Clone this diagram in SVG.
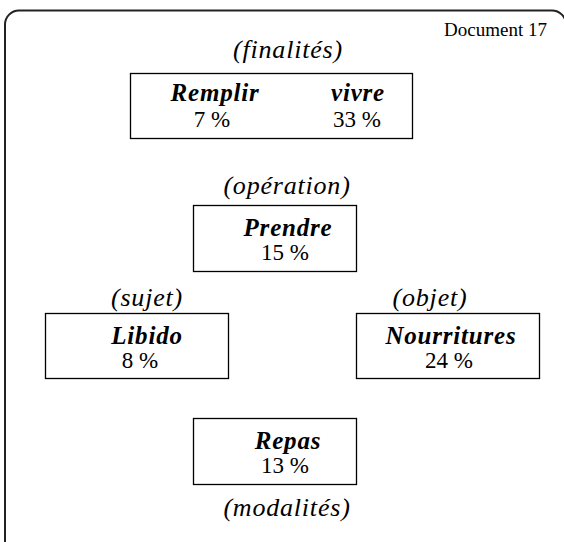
<svg xmlns="http://www.w3.org/2000/svg" width="564" height="542" viewBox="0 0 564 542">
<style>
text{font-family:"Liberation Serif","Times New Roman",serif;fill:#000;text-anchor:middle}
.lab{font-style:italic;font-size:26px;letter-spacing:0.8px}
.name{font-style:italic;font-weight:bold;font-size:25px;letter-spacing:0.8px}
.pct{font-size:23px}
.doc{font-size:19px;text-anchor:end}
.box{fill:#fff;stroke:#000;stroke-width:1.3}
</style>
<rect x="5" y="10.5" width="561" height="560" rx="14" fill="#fff" stroke="#222" stroke-width="2"/>
<text class="doc" x="547" y="36">Document 17</text>
<g id="finalites">
<text class="lab" x="288" y="58">(finalités)</text>
<rect class="box" x="130.5" y="73.5" width="282" height="65"/>
<text class="name" x="215" y="101">Remplir</text>
<text class="name" x="358" y="101">vivre</text>
<text class="pct" x="212" y="127">7 %</text>
<text class="pct" x="357" y="127">33 %</text>
</g>
<g id="prendre">
<text class="lab" x="287" y="194">(opération)</text>
<rect class="box" x="193.5" y="205.5" width="163" height="66"/>
<text class="name" x="288" y="236">Prendre</text>
<text class="pct" x="285" y="260">15 %</text>
</g>
<g id="libido">
<text class="lab" x="147" y="306">(sujet)</text>
<rect class="box" x="45.5" y="313.5" width="183" height="65"/>
<text class="name" x="147" y="344">Libido</text>
<text class="pct" x="140" y="368">8 %</text>
</g>
<g id="nourritures">
<text class="lab" x="430" y="306">(objet)</text>
<rect class="box" x="356.5" y="313.5" width="183" height="65"/>
<text class="name" x="451" y="344">Nourritures</text>
<text class="pct" x="449" y="368">24 %</text>
</g>
<g id="repas">
<rect class="box" x="193.5" y="418.5" width="163" height="66"/>
<text class="name" x="288" y="449">Repas</text>
<text class="pct" x="285" y="473">13 %</text>
<text class="lab" x="287" y="516">(modalités)</text>
</g>
<g id="connectors"></g>
</svg>
